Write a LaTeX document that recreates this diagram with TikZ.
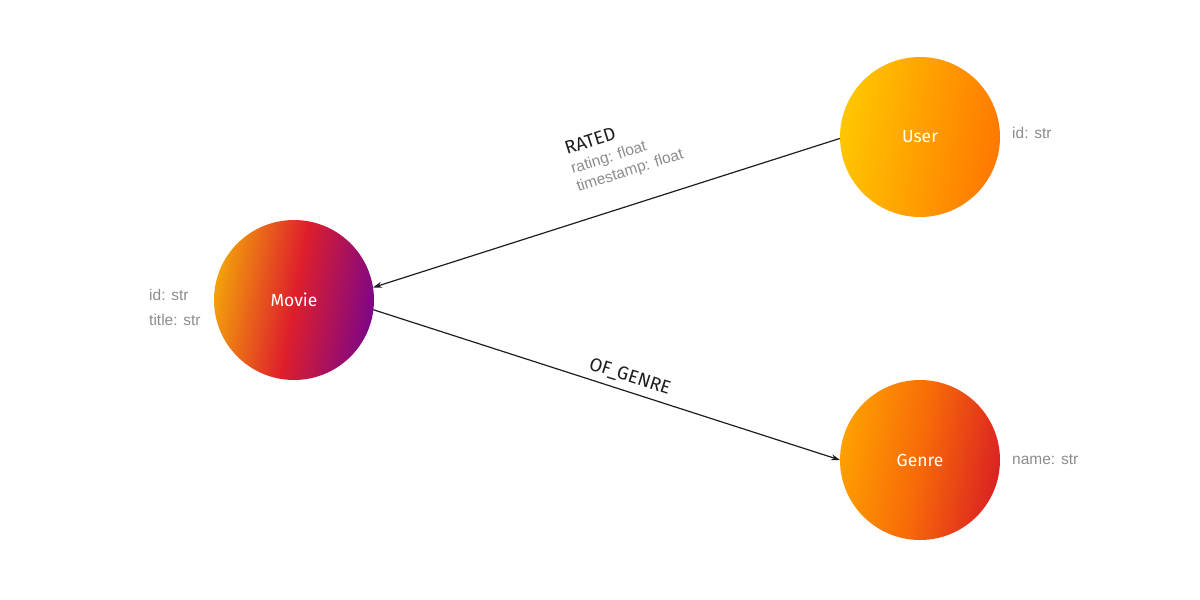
\documentclass[tikz,border=0pt]{standalone}
\usepackage{fontspec}
\setmainfont{Fira Sans}
\newfontfamily\propfont{Liberation Sans}
\usetikzlibrary{arrows.meta}
\definecolor{mA}{HTML}{F3A10A}
\definecolor{mB}{HTML}{DE1F2B}
\definecolor{mC}{HTML}{7E0686}
\definecolor{uA}{HTML}{FFC700}
\definecolor{uB}{HTML}{FF7800}
\definecolor{gA}{HTML}{FFA000}
\definecolor{gB}{HTML}{F76A08}
\definecolor{gC}{HTML}{DB2222}
\definecolor{propgray}{HTML}{8C8C8C}
\definecolor{edgeblack}{HTML}{1E1E1E}
\pgfdeclarehorizontalshading{movieshade}{100bp}{color(0bp)=(mA); color(25bp)=(mA); color(50bp)=(mB); color(75bp)=(mC); color(100bp)=(mC)}
\pgfdeclarehorizontalshading{usershade}{100bp}{color(0bp)=(uA); color(25bp)=(uA); color(75bp)=(uB); color(100bp)=(uB)}
\pgfdeclarehorizontalshading{genreshade}{100bp}{color(0bp)=(gA); color(25bp)=(gA); color(50bp)=(gB); color(75bp)=(gC); color(100bp)=(gC)}
\begin{document}
\begin{tikzpicture}[x=1pt,y=1pt,
  entity/.style={circle,minimum size=160pt,inner sep=0pt,outer sep=0pt,text=white,font=\fontsize{17.5}{20}\selectfont,shading angle=-10},
  prop/.style={anchor=west,inner sep=0pt,text=propgray,font=\propfont\fontsize{15.5}{18}\selectfont},
  elabel/.style={anchor=base west,inner sep=0pt,text=edgeblack,font=\fontsize{18.5}{21}\selectfont},
  eprop/.style={anchor=base west,inner sep=0pt,text=propgray,font=\propfont\fontsize{15.5}{18}\selectfont},
  rel/.style={draw=edgeblack,line width=1.2pt,-{Stealth[length=9pt,width=6pt]}}]
\useasboundingbox (0,0) rectangle (1200,-600);
\node[entity,shading=movieshade] (movie) at (294,-300) {Movie};
\node[entity,shading=usershade] (user) at (920,-137) {User};
\node[entity,shading=genreshade] (genre) at (920,-460) {Genre};
\node[prop] (mid) at (149,-295) {id: str};
\node[prop] (mtitle) at (149,-320) {title: str};
\node[prop] (uid) at (1012,-133) {id: str};
\node[prop] (gname) at (1012,-460) {name: str};
\draw[rel] (user.181) -- (movie.9);
\draw[rel] (movie.-7) -- (genre.180);
\node[elabel,rotate=17.6] (rated) at (567,-155) {RATED};
\node[eprop,rotate=17.6] (rrating) at (572.7,-174) {rating: float};
\node[eprop,rotate=17.6] (rts) at (578.4,-192) {timestamp: float};
\node[elabel,rotate=-17.8] (ofgenre) at (588,-369) {OF\_GENRE};
\end{tikzpicture}
\end{document}
